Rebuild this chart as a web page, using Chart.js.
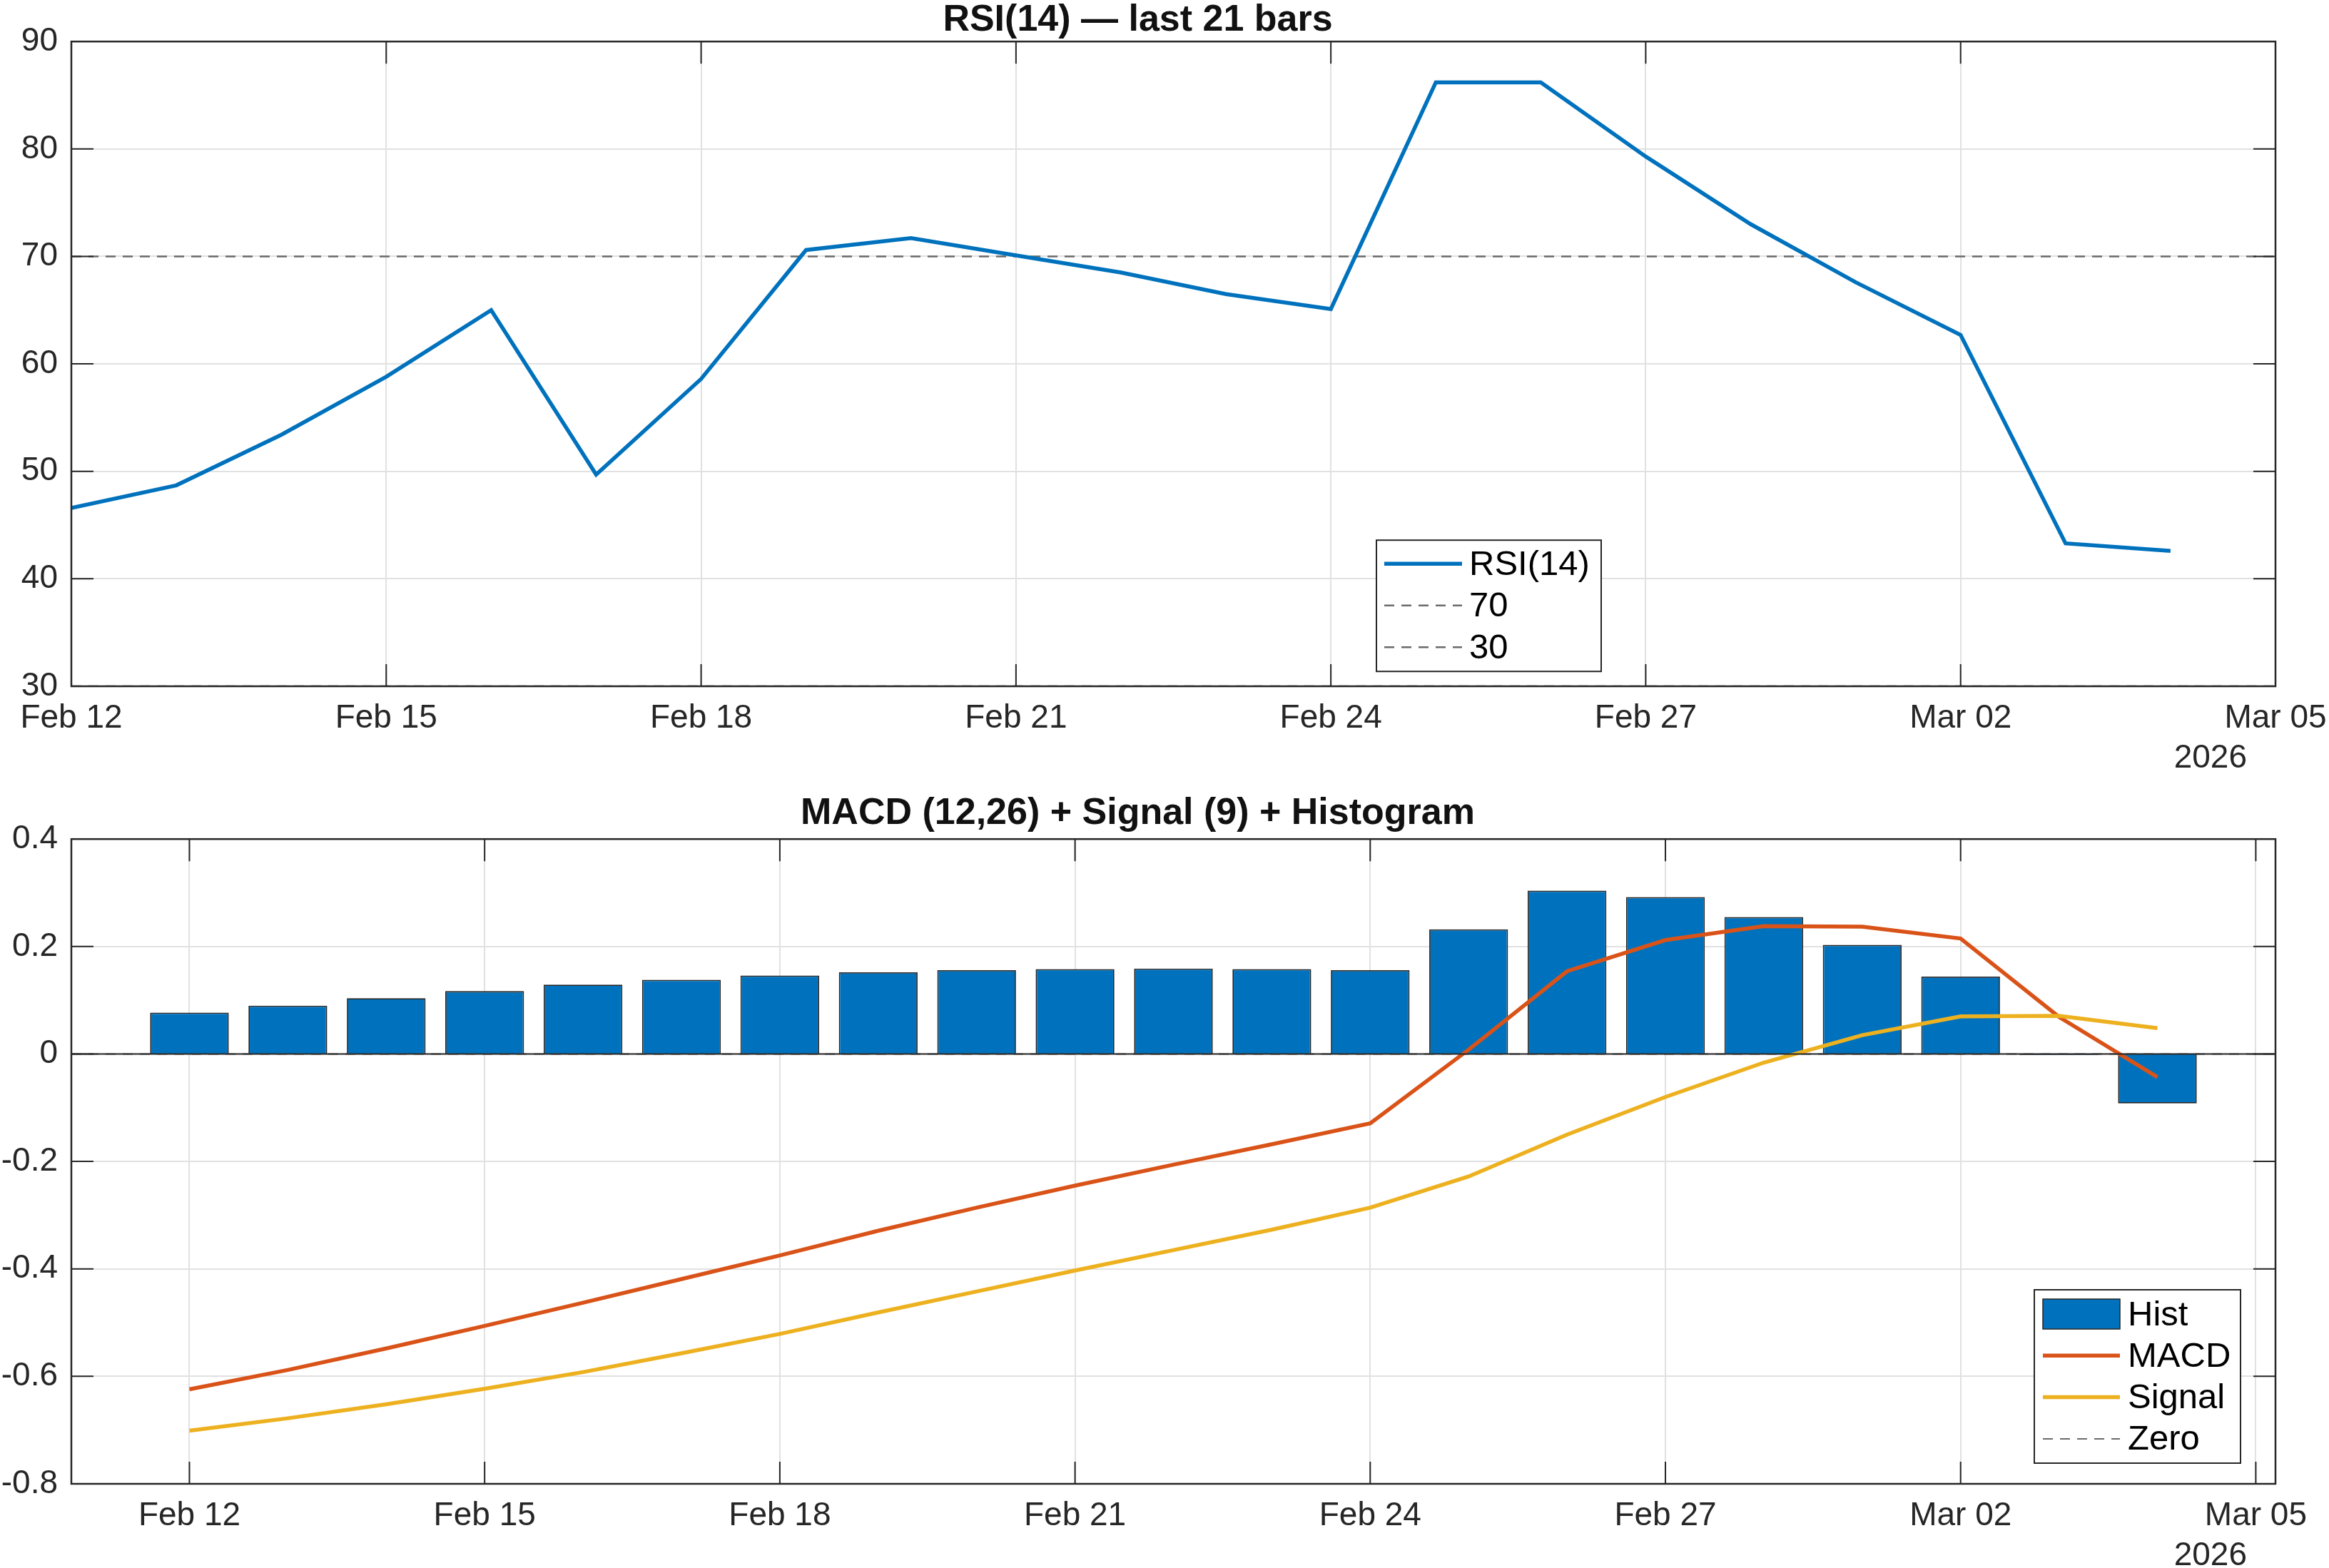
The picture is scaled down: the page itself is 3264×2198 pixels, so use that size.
<!DOCTYPE html>
<html>
<head>
<meta charset="utf-8">
<script src="https://cdn.jsdelivr.net/npm/chart.js@4.4.1/dist/chart.umd.min.js"></script>
<style>
html,body{margin:0;padding:0;background:#fff;width:3264px;height:2198px;overflow:hidden}
.box{position:absolute;left:0;width:3264px}
canvas{display:block}
</style>
</head>
<body>
<div class="box" style="top:0;height:1100px"><canvas id="rsi" width="3264" height="1100" style="width:3264px;height:1100px"></canvas></div>
<div class="box" style="top:1100px;height:1098px"><canvas id="macd" width="3264" height="1098" style="width:3264px;height:1098px"></canvas></div>
<script>
// ---------------- DATA ----------------
const dates = ['Feb 12','Feb 13','Feb 14','Feb 15','Feb 16','Feb 17','Feb 18','Feb 19','Feb 20','Feb 21',
  'Feb 22','Feb 23','Feb 24','Feb 25','Feb 26','Feb 27','Feb 28','Mar 01','Mar 02','Mar 03','Mar 04'];
const rsiValues = [46.6, 48.7, 53.4, 58.8, 65.0, 49.7, 58.6, 70.6, 71.7, 70.1, 68.5, 66.5, 65.1, 86.2, 86.2,
  79.3, 73.0, 67.6, 62.7, 43.3, 42.6];
const histValues = [0.077, 0.090, 0.104, 0.117, 0.129, 0.138, 0.146, 0.152, 0.156, 0.158, 0.159, 0.158, 0.156,
  0.232, 0.304, 0.292, 0.255, 0.203, 0.144, -0.002, -0.092];
const macdValues = [-0.624, -0.588, -0.548, -0.506, -0.463, -0.419, -0.375, -0.329, -0.286, -0.245, -0.206,
  -0.168, -0.129, 0.008, 0.154, 0.212, 0.238, 0.237, 0.215, 0.069, -0.043];
const signalValues = [-0.701, -0.678, -0.652, -0.623, -0.592, -0.557, -0.521, -0.481, -0.442, -0.403, -0.365,
  -0.327, -0.286, -0.228, -0.150, -0.080, -0.016, 0.035, 0.070, 0.071, 0.048];
const rsiLevels = [70, 30];
const zeroLevel = 0;
const tickDays = [0, 3, 6, 9, 12, 15, 18, 21];
const tickLabels = ['Feb 12','Feb 15','Feb 18','Feb 21','Feb 24','Feb 27','Mar 02','Mar 05'];
const yearLabel = '2026';
const rsiTitle = 'RSI(14) \u2014 last 21 bars';
const macdTitle = 'MACD (12,26) + Signal (9) + Histogram';

// ---------------- STYLE ----------------
const FAMILY = '"Liberation Sans", Arial, Helvetica, sans-serif';
const AXIS = '#262626';
const GRID = '#e1e1e1';
const BLUE = '#0072BD', ORANGE = '#D95319', YELLOW = '#EDB120', DASHGRAY = '#6a6a6a';
const DASH = [14, 10];
Chart.defaults.font.family = FAMILY;
Chart.defaults.color = AXIS;
Chart.defaults.animation = false;

const pts = (arr) => arr.map((v, i) => ({x: i, y: v}));
const hline = (v, x0, x1) => [{x: x0, y: v}, {x: x1, y: v}];

// frame + inward ticks + baseline
const framePlugin = {
  id: 'frame',
  afterDatasetsDraw(chart, args, o) {
    const ctx = chart.ctx, a = chart.chartArea, L = 31;
    ctx.save();
    if (o.baseline !== undefined) {
      const yb = chart.scales.y.getPixelForValue(o.baseline);
      ctx.strokeStyle = AXIS; ctx.lineWidth = 2;
      ctx.beginPath(); ctx.moveTo(a.left, yb); ctx.lineTo(a.right, yb); ctx.stroke();
    }
    ctx.strokeStyle = AXIS; ctx.lineWidth = 2;
    const xs = chart.scales.x, ys = chart.scales.y;
    ctx.beginPath();
    xs.ticks.forEach(t => {
      const p = xs.getPixelForValue(t.value);
      if (p <= a.left + 1 || p >= a.right - 1) return;
      ctx.moveTo(p, a.bottom); ctx.lineTo(p, a.bottom - L);
      ctx.moveTo(p, a.top); ctx.lineTo(p, a.top + L);
    });
    ys.ticks.forEach(t => {
      const p = ys.getPixelForValue(t.value);
      if (p <= a.top + 1 || p >= a.bottom - 1) return;
      ctx.moveTo(a.left, p); ctx.lineTo(a.left + L, p);
      ctx.moveTo(a.right, p); ctx.lineTo(a.right - L, p);
    });
    ctx.stroke();
    ctx.lineWidth = 2.5;
    ctx.strokeRect(a.left, a.top, a.right - a.left, a.bottom - a.top);
    ctx.restore();
  }
};

const yearPlugin = {
  id: 'year',
  afterDraw(chart) {
    const ctx = chart.ctx, a = chart.chartArea;
    ctx.save();
    ctx.font = '46px ' + FAMILY; ctx.fillStyle = AXIS;
    ctx.textAlign = 'right'; ctx.textBaseline = 'alphabetic';
    ctx.fillText(yearLabel, a.right - 40, a.bottom + 114);
    ctx.restore();
  }
};

const boxLegend = {
  id: 'boxLegend',
  afterDraw(chart, args, o) {
    const ctx = chart.ctx, a = chart.chartArea;
    const x0 = o.fromRight ? a.right - o.offX - o.w : a.left + o.offX;
    const y0 = o.fromBottom ? a.bottom - o.offY - o.h : a.top + o.offY;
    ctx.save();
    ctx.fillStyle = '#fff'; ctx.fillRect(x0, y0, o.w, o.h);
    ctx.strokeStyle = AXIS; ctx.lineWidth = 2; ctx.strokeRect(x0, y0, o.w, o.h);
    ctx.font = o.fontSize + 'px ' + FAMILY;
    ctx.textAlign = 'left'; ctx.textBaseline = 'middle';
    chart.data.datasets.forEach((ds, i) => {
      const cy = y0 + o.firstRow + i * o.rowH;
      const sx = x0 + o.sampleX;
      if (ds.type === 'bar') {
        ctx.fillStyle = ds.backgroundColor; ctx.fillRect(sx, cy - 21, o.sampleW, 42);
        ctx.strokeStyle = ds.borderColor; ctx.lineWidth = 1.5; ctx.setLineDash([]);
        ctx.strokeRect(sx, cy - 21, o.sampleW, 42);
      } else {
        ctx.strokeStyle = ds.borderColor; ctx.lineWidth = ds.borderWidth;
        ctx.setLineDash(ds.borderDash || []);
        ctx.beginPath(); ctx.moveTo(sx, cy); ctx.lineTo(sx + o.sampleW, cy); ctx.stroke();
        ctx.setLineDash([]);
      }
      ctx.fillStyle = '#000';
      ctx.fillText(ds.label, x0 + o.textX, cy + 2);
    });
    ctx.restore();
  }
};

function xScale(min, max, h) {
  return {
    type: 'linear', min: min, max: max, offset: false,
    afterBuildTicks: (s) => { s.ticks = tickDays.map(v => ({value: v})); },
    afterFit: (s) => { s.paddingLeft = 0; s.paddingRight = 0; s.height = h; },
    ticks: {
      autoSkip: false, maxRotation: 0, minRotation: 0, padding: 18,
      font: {size: 46}, color: AXIS,
      callback: (v) => tickLabels[tickDays.indexOf(v)]
    },
    grid: {color: GRID, lineWidth: 2, drawTicks: false, offset: false},
    border: {display: false}
  };
}
function yFmt(v) { return String(Number(Number(v).toFixed(1)) || 0); }

// ---------------- RSI CHART ----------------
const rsiX0 = 0, rsiX1 = 21;
const rsiChart = new Chart(document.getElementById('rsi'), {
  type: 'line',
  data: {
    datasets: [
      {label: 'RSI(14)', data: pts(rsiValues), borderColor: BLUE, borderWidth: 5.5, pointRadius: 0, tension: 0, order: 1},
      {label: String(rsiLevels[0]), data: hline(rsiLevels[0], rsiX0, rsiX1), borderColor: DASHGRAY, borderWidth: 2.5,
        borderDash: DASH, pointRadius: 0, order: 2},
      {label: String(rsiLevels[1]), data: hline(rsiLevels[1], rsiX0, rsiX1), borderColor: DASHGRAY, borderWidth: 2.5,
        borderDash: DASH, pointRadius: 0, order: 3}
    ]
  },
  options: {
    responsive: false, maintainAspectRatio: false, devicePixelRatio: 1,
    layout: {padding: {left: 0, right: 75, top: 0, bottom: 0}},
    scales: {
      x: xScale(rsiX0, rsiX1, 138),
      y: {
        min: 30, max: 90,
        afterFit: (s) => { s.width = 100; },
        ticks: {stepSize: 10, padding: 19, font: {size: 46}, color: AXIS, callback: yFmt},
        grid: {color: GRID, lineWidth: 2, drawTicks: false},
        border: {display: false}
      }
    },
    plugins: {
      legend: {display: false},
      tooltip: {enabled: false},
      title: {display: true, text: rsiTitle, color: '#111', font: {size: 52, weight: 'bold', lineHeight: 1.1},
        padding: {top: 0, bottom: 1}},
      boxLegend: {offX: 1829, offY: 699, w: 315, h: 184, firstRow: 33, rowH: 58.5, sampleX: 11, sampleW: 109,
        textX: 130, fontSize: 49}
    }
  },
  plugins: [framePlugin, yearPlugin, boxLegend]
});

// ---------------- MACD CHART ----------------
const mX0 = -1.2, mX1 = 21.2;
const macdChart = new Chart(document.getElementById('macd'), {
  type: 'bar',
  data: {
    datasets: [
      {type: 'bar', label: 'Hist', data: pts(histValues), backgroundColor: BLUE, borderColor: '#262626', borderWidth: 1.8,
        barPercentage: 0.8, categoryPercentage: 1.0, order: 5},
      {type: 'line', label: 'MACD', data: pts(macdValues), borderColor: ORANGE, borderWidth: 5.5, pointRadius: 0, tension: 0, order: 2},
      {type: 'line', label: 'Signal', data: pts(signalValues), borderColor: YELLOW, borderWidth: 5.5, pointRadius: 0, tension: 0, order: 1},
      {type: 'line', label: 'Zero', data: hline(zeroLevel, mX0, mX1), borderColor: DASHGRAY, borderWidth: 2,
        borderDash: DASH, pointRadius: 0, order: 4}
    ]
  },
  options: {
    responsive: false, maintainAspectRatio: false, devicePixelRatio: 1,
    layout: {padding: {left: 0, right: 75, top: 0, bottom: 0}},
    scales: {
      x: xScale(mX0, mX1, 118),
      y: {
        min: -0.8, max: 0.4,
        afterFit: (s) => { s.width = 100; },
        ticks: {stepSize: 0.2, padding: 19, font: {size: 46}, color: AXIS, callback: yFmt},
        grid: {color: GRID, lineWidth: 2, drawTicks: false},
        border: {display: false}
      }
    },
    plugins: {
      legend: {display: false},
      tooltip: {enabled: false},
      title: {display: true, text: macdTitle, color: '#111', font: {size: 52, weight: 'bold', lineHeight: 1.1},
        padding: {top: 12, bottom: 7}},
      frame: {baseline: zeroLevel},
      boxLegend: {fromRight: true, fromBottom: true, offX: 49, offY: 29, w: 289, h: 243, firstRow: 34, rowH: 58.3,
        sampleX: 12, sampleW: 108, textX: 131, fontSize: 49}
    }
  },
  plugins: [framePlugin, yearPlugin, boxLegend]
});
</script>
</body>
</html>
